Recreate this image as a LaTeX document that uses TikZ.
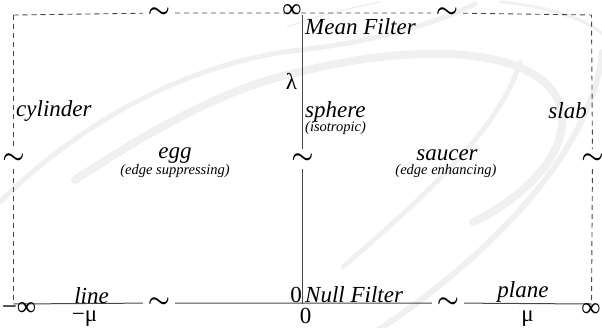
\documentclass[tikz,border=0pt]{standalone}
\usepackage{fontspec}
\setmainfont{Liberation Serif}
\begin{document}
\begin{tikzpicture}[x=1pt,y=-1pt,
  lbl/.style={font=\fontsize{23}{23}\selectfont\itshape, inner sep=0pt},
  sublbl/.style={font=\fontsize{14.5}{14.5}\selectfont\itshape, inner sep=0pt},
  sym/.style={font=\fontsize{23}{23}\selectfont, inner sep=0pt},
  infsym/.style={font=\fontsize{27}{27}\selectfont, inner sep=0pt},
  htld/.style={font=\fontsize{24}{24}\selectfont\boldmath, inner sep=0pt, minimum width=32pt, minimum height=6pt},
  vtld/.style={font=\fontsize{24}{24}\selectfont\boldmath, inner sep=0pt, minimum width=6pt, minimum height=20pt},
  axisline/.style={draw=black!72, line width=1pt},
  bndline/.style={draw=black!72, line width=0.9pt, dash pattern=on 5pt off 4pt},
  wm/.style={draw=black!6, line cap=round}]
\useasboundingbox (0,0) rectangle (602,327);
% faint watermark swooshes
\draw[wm, line width=5pt] (0,202) .. controls (80,122) and (190,62) .. (300,50) .. controls (370,42) and (430,26) .. (475,4);
\draw[wm, line width=8pt] (75,180) .. controls (150,130) and (230,86) .. (300,72) .. controls (400,46) and (530,42) .. (558,100) .. controls (578,150) and (520,200) .. (473,222);
\draw[wm, line width=5pt] (343,267) .. controls (420,200) and (500,130) .. (520,62);
\draw[wm, line width=6pt] (602,52) .. controls (592,160) and (470,270) .. (378,330);
\draw[wm, line width=3pt] (500,2) .. controls (550,6) and (588,20) .. (605,36);
\draw[wm, line width=1.5pt] (287,27) .. controls (320,15) and (350,8) .. (380,2);
% frame corners and axis ends
\coordinate (TL) at (13.5,15);
\coordinate (TR) at (591.5,15);
\coordinate (BL) at (13.5,304);
\coordinate (BR) at (591.5,304);
\coordinate (T0) at (302.5,15);
\coordinate (B0) at (302.5,304);
% tilde break marks
\node[htld] (tT1) at (159,13) {$\sim$};
\node[htld] (tT2) at (447,13) {$\sim$};
\node[vtld] (tL) at (13.5,159) {$\sim$};
\node[vtld] (tR) at (592.5,159) {$\sim$};
\node[vtld] (tC) at (302.5,159) {$\sim$};
\node[htld] (tB1) at (159,303) {$\sim$};
\node[htld] (tB2) at (448,303) {$\sim$};
% lines
\draw[bndline] (TL) -- (tT1) -- (tT2) -- (TR) -- (tR) -- (BR);
\draw[bndline] (TL) -- (tL) -- (BL);
\draw[axisline] (BL) -- (tB1) -- (tB2) -- (BR);
\draw[axisline] (T0) -- (tC) -- (B0);
% labels
\node[infsym] (infT) at (292,11) {∞};
\node[lbl, anchor=west] (mean) at (305,26.5) {Mean Filter};
\node[sym] (lam) at (291.5,81) {λ};
\node[lbl, anchor=west] (cyl) at (16,111) {cylinder};
\node[lbl, anchor=west] (sph) at (305,112) {sphere};
\node[sublbl, anchor=west] (iso) at (305,128) {(isotropic)};
\node[lbl, anchor=east] (slab) at (587,111) {slab};
\node[lbl] (egg) at (175,156) {egg};
\node[sublbl] (supp) at (175,171.5) {(edge suppressing)};
\node[lbl] (sauc) at (447,155.5) {saucer};
\node[sublbl] (enh) at (446,171.5) {(edge enhancing)};
\node[lbl] (linelbl) at (91.5,295.5) {line};
\node[sym] (mmu) at (84.5,318.5) {−μ};
\node[infsym] (minf) at (19,309.5) {−∞};
\node[sym] (zeroL) at (296,295) {0};
\node[lbl, anchor=west] (null) at (305,295) {Null Filter};
\node[sym] (zeroB) at (305.5,316) {0};
\node[lbl] (plane) at (523,291.5) {plane};
\node[sym] (mu) at (527.5,318.5) {μ};
\node[infsym] (infR) at (591,310) {∞};
\end{tikzpicture}
\end{document}
